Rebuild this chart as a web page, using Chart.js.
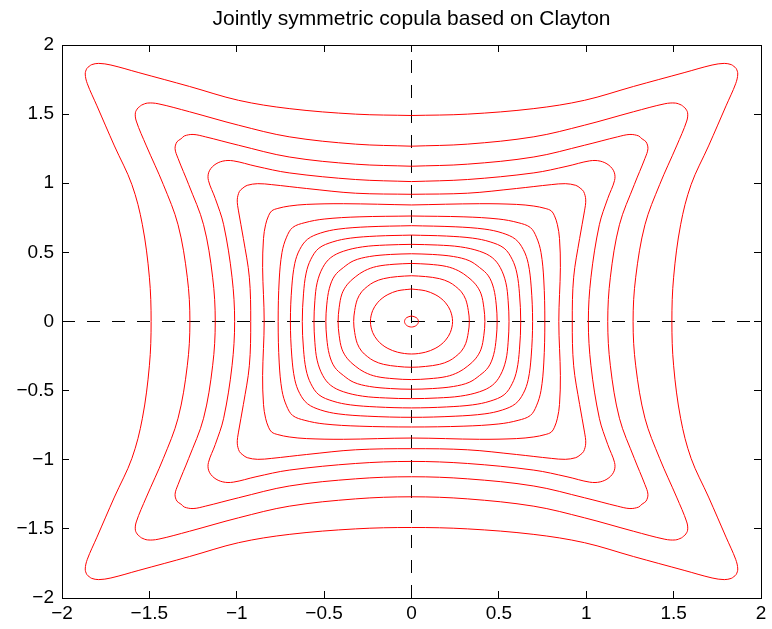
<!DOCTYPE html>
<html>
<head>
<meta charset="utf-8">
<script src="https://cdn.jsdelivr.net/npm/chart.js@4.4.1/dist/chart.umd.min.js"></script>
<style>
  html, body { margin: 0; padding: 0; background: #ffffff; }
  canvas { display: block; }
</style>
</head>
<body>
<canvas id="copula" width="772" height="629"></canvas>
<script>
// ticks
var xTicks = [-2, -1.5, -1, -0.5, 0, 0.5, 1, 1.5, 2];
var yTicks = [-2, -1.5, -1, -0.5, 0, 0.5, 1, 1.5, 2];
var titulo = 'Jointly symmetric copula based on Clayton';

// contour levels: one octant each (from the top of the
// y axis to the diagonal x=y), the rest comes from the picture's symmetry
var c00 = [[0, 0.040], [0.028, 0.028]];
var c01 = [[0, 0.235], [0.080, 0.222], [0.135, 0.195], [0.168, 0.168]];
var c02 = [[0, 0.331], [0.080, 0.325], [0.160, 0.310], [0.215, 0.285], [0.253, 0.253]];
var c03 = [[0, 0.420], [0.100, 0.414], [0.200, 0.398], [0.270, 0.366], [0.322, 0.322]];
var c04 = [[0, 0.490], [0.120, 0.485], [0.240, 0.470], [0.330, 0.440], [0.390, 0.390]];
var c05 = [[0, 0.558], [0.150, 0.553], [0.280, 0.540], [0.390, 0.508], [0.462, 0.462]];
var c06 = [[0, 0.625], [0.200, 0.618], [0.350, 0.603], [0.450, 0.576], [0.530, 0.530]];
var c07 = [[0, 0.693], [0.250, 0.685], [0.420, 0.668], [0.520, 0.640], [0.595, 0.595]];
var c08 = [[0, 0.763], [0.300, 0.757], [0.500, 0.741], [0.610, 0.715], [0.680, 0.680]];
var c09 = [[0, 0.843], [0.390, 0.852], [0.600, 0.847], [0.700, 0.835], [0.765, 0.818], [0.800, 0.800]];
var c10 = [[0, 0.920], [0.320, 0.928], [0.600, 0.962], [0.800, 0.990], [0.880, 0.997], [0.940, 0.985], [0.965, 0.965]];
var c11 = [[0, 1.012], [0.320, 1.027], [0.700, 1.075], [0.890, 1.123], [1.020, 1.162], [1.080, 1.160], [1.130, 1.130]];
var c12 = [[0, 1.123], [0.320, 1.138], [0.700, 1.190], [0.990, 1.275], [1.180, 1.336], [1.250, 1.353], [1.300, 1.342], [1.320, 1.320]];
var c13 = [[0, 1.268], [0.320, 1.283], [0.700, 1.336], [0.990, 1.420], [1.270, 1.517], [1.450, 1.575], [1.510, 1.580], [1.545, 1.565], [1.555, 1.555]];
var c14 = [[0, 1.490], [0.320, 1.500], [0.700, 1.540], [0.990, 1.600], [1.270, 1.700], [1.560, 1.800], [1.720, 1.855], [1.790, 1.867], [1.830, 1.858], [1.845, 1.845]];
var niveles = [c00, c01, c02, c03, c04, c05, c06, c07, c08, c09, c10, c11, c12, c13, c14];

// dashed axis lines through the origin
var ejeX = [[-2, 0], [2, 0]];
var ejeY = [[0, -2], [0, 2]];

// octant -> closed curve (mirror on x=y, then on both axes)
function curvaCerrada(oct) {
  var q1 = oct.concat(oct.slice(0, -1).reverse().map(function (p) { return [p[1], p[0]]; }));
  var q4 = q1.slice().reverse().map(function (p) { return [p[0], -p[1]]; }).slice(1);
  var q3 = q1.map(function (p) { return [-p[0], -p[1]]; }).slice(1);
  var q2 = q1.slice().reverse().map(function (p) { return [-p[0], p[1]]; }).slice(1);
  return q1.concat(q4, q3, q2).map(function (p) { return { x: p[0], y: p[1] }; });
}

function menos(v) {
  return v < 0 ? '\u2212' + Math.abs(v) : String(v);
}

var datasets = [];
niveles.forEach(function (oct) {
  datasets.push({
    data: curvaCerrada(oct),
    borderColor: '#ff0000',
    borderWidth: 1,
    pointRadius: 0,
    showLine: true,
    tension: 0.35,
    fill: false
  });
});
[ejeX, ejeY].forEach(function (linea) {
  datasets.push({
    data: linea.map(function (p) { return { x: p[0], y: p[1] }; }),
    borderColor: '#000000',
    borderWidth: 1,
    borderDash: [13, 12],
    pointRadius: 0,
    showLine: true,
    tension: 0,
    fill: false
  });
});

// title centred over the axes, like matlab does
var titulo_plugin = {
  id: 'tituloMatlab',
  afterDraw: function (chart) {
    var ctx = chart.ctx, a = chart.chartArea;
    ctx.save();
    ctx.fillStyle = '#000000';
    ctx.font = '21px "Liberation Sans", Arial, sans-serif';
    ctx.textAlign = 'center';
    ctx.textBaseline = 'middle';
    ctx.fillText(titulo, (a.left + a.right) / 2, 19);
    ctx.restore();
  }
};

var fuente = { family: '"Liberation Sans", Arial, sans-serif', size: 19 };
// inward tick marks: negative tickLength, the label padding makes up for it
var rejilla = { display: true, drawOnChartArea: false, drawTicks: true, tickLength: -7, color: '#000000', lineWidth: 1 };
var borde = { display: true, color: '#000000', width: 1 };

function eje(posicion, marcas, conTexto, tam) {
  var horizontal = posicion === 'bottom' || posicion === 'top';
  return {
    type: 'linear',
    position: posicion,
    min: -2, max: 2,
    afterBuildTicks: function (s) { s.ticks = marcas.map(function (v) { return { value: v }; }); },
    afterFit: function (s) {
      if (horizontal) { s.height = tam; } else { s.width = tam; }
      // the outer padding already leaves room for the end labels
      s.paddingLeft = 0; s.paddingRight = 0; s.paddingTop = 0; s.paddingBottom = 0;
    },
    grid: rejilla,
    border: borde,
    ticks: {
      display: conTexto,
      autoSkip: false, maxRotation: 0,
      padding: horizontal ? 11 : 15,
      color: '#000000',
      font: fuente,
      callback: menos
    }
  };
}

var config = {
  type: 'scatter',
  data: { datasets: datasets },
  options: {
    responsive: false,
    devicePixelRatio: 1,
    animation: false,
    layout: { padding: { left: 0, right: 11, top: 45, bottom: 0 } },
    plugins: {
      legend: { display: false },
      tooltip: { enabled: false },
      title: { display: false }
    },
    scales: {
      x: eje('bottom', xTicks, true, 31),
      x2: eje('top', xTicks, false, 0),
      y: eje('left', yTicks, true, 62),
      y2: eje('right', yTicks, false, 0)
    }
  },
  plugins: [titulo_plugin]
};

window.myCopula = new Chart(document.getElementById('copula'), config);
</script>
</body>
</html>
